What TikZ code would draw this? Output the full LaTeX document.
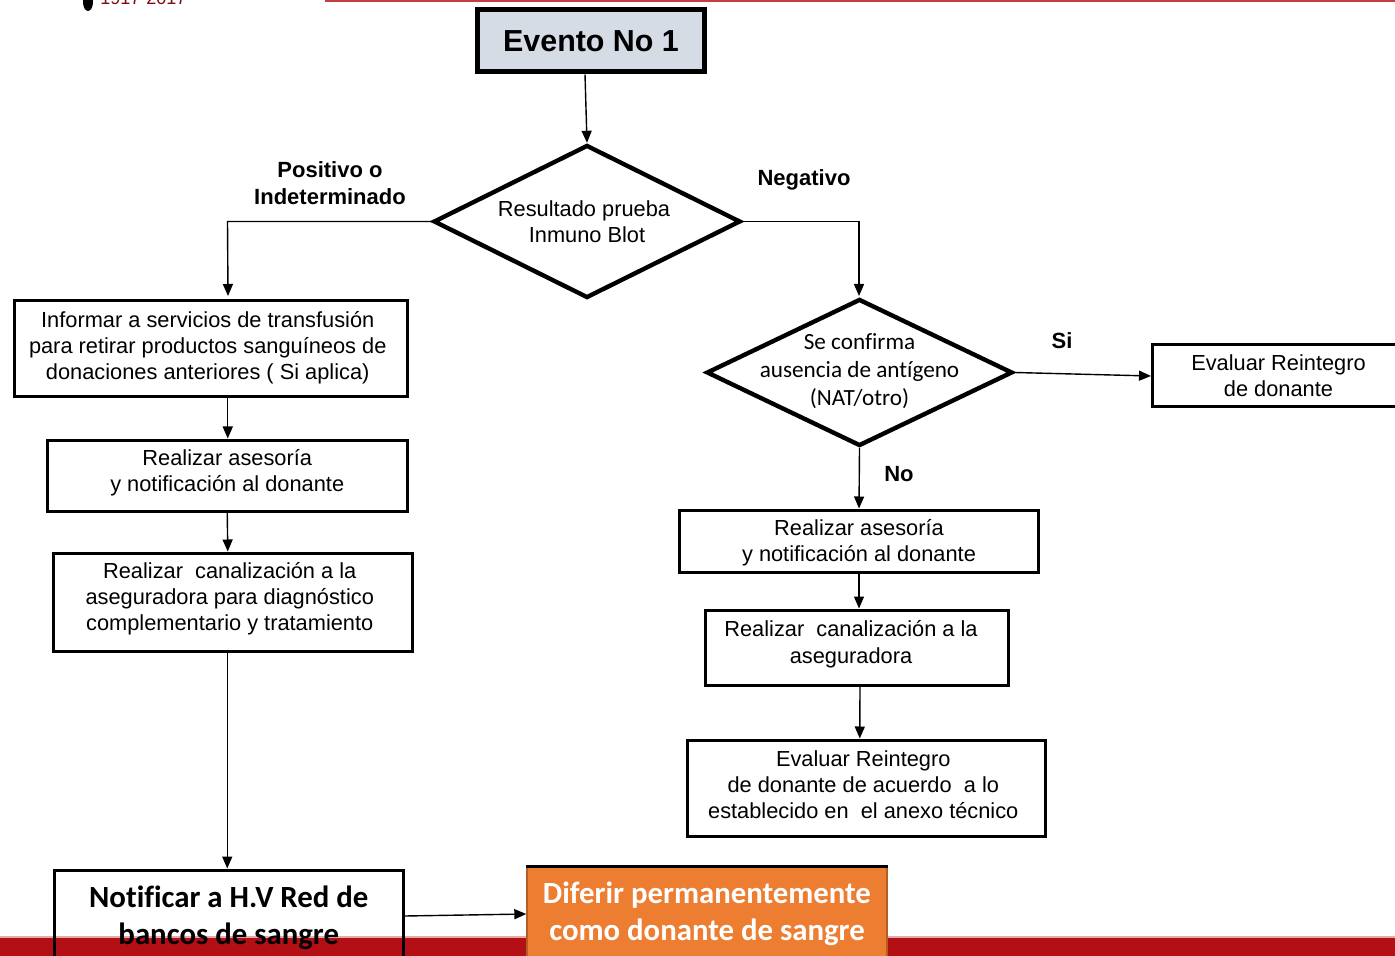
\documentclass[tikz,border=0pt]{standalone}
\usepackage{fontspec}
\setmainfont{Liberation Sans}
\newfontfamily\calibrifont[Ligatures=NoCommon]{Carlito}
\usetikzlibrary{arrows.meta,shapes.geometric}

\definecolor{bandred}{HTML}{B30F14}
\definecolor{eventfill}{HTML}{D6DCE5}
\definecolor{deferfill}{HTML}{ED7D31}
\newcommand{\leftpad}{\rule{3pt}{0pt}}

\tikzset{
  flowbox/.style={draw=black,line width=1.5pt,inner sep=0pt,align=center,
    font=\fontsize{10.9}{13}\selectfont},
  decision/.style={diamond,draw=black,line width=2.2pt,inner sep=0pt,align=center,aspect=2},
  branchlabel/.style={font=\fontsize{11}{13.5}\selectfont\bfseries,align=center,inner sep=0pt},
  boldbox/.style={line width=1.5pt,inner sep=0pt,align=center,
    font=\calibrifont\fontsize{15.4}{18.5}\selectfont\bfseries},
  flowarrow/.style={draw=black,line width=.7pt,-{Triangle[length=6pt,width=5pt]}}
}

\begin{document}
\begin{tikzpicture}[x=.5pt,y=-.5pt]
  \useasboundingbox (0,0) rectangle (1395,956);
  \clip (0,0) rectangle (1395,956);
  \fill[white] (0,0) rectangle (1395,956);

  % page furniture behind the chart
  \fill[bandred!35!white] (0,935.5) rectangle (1395,937.5);
  \fill[bandred] (0,937.5) rectangle (1395,956);
  \fill[bandred!80!white] (325,0) rectangle (1395,2.5);
  \fill[black] (88,2) ellipse (5 and 9);
  \node (year) [anchor=base west,inner sep=0pt,text=bandred!70!black,
    font=\fontsize{9}{10}\selectfont] at (100,5) {1917-2017};

  % top and left branch
  \node (evento) [flowbox,line width=2.5pt,fill=eventfill,minimum width=113.5pt,minimum height=31pt,
    text depth=0pt,font=\fontsize{15.2}{18}\selectfont\bfseries] at (591,41) {Evento No 1};
  \node (prueba) [decision,minimum width=153.5pt,minimum height=76.5pt,
    font=\fontsize{10.9}{13}\selectfont] at (587,221.5) {Resultado prueba\leftpad\\Inmuno Blot};
  \node (informar) [flowbox,minimum width=196.5pt,minimum height=48pt,text depth=3pt] at (210.75,348.75)
    {Informar a servicios de transfusión\leftpad\\para retirar productos sanguíneos de\leftpad\\donaciones anteriores ( Si aplica)\leftpad};
  \node (asesoria) [flowbox,minimum width=180pt,minimum height=35.5pt,text depth=5pt] at (227.25,475.5)
    {Realizar asesoría\\y notificación al donante};
  \node (canal) [flowbox,minimum width=179.5pt,minimum height=49pt,text depth=6pt] at (232.75,602)
    {Realizar~ canalización a la\leftpad\\aseguradora para diagnóstico\leftpad\\complementario y tratamiento\leftpad};

  % right branch
  \node (confirma) [decision,inner sep=-20pt,minimum width=153pt,minimum height=73.5pt,text depth=3pt,
    font=\calibrifont\fontsize{11.6}{14}\selectfont] at (859.5,372.5)
    {Se confirma\\ausencia de antígeno\\(NAT/otro)};
  \node (reintegro) [flowbox,minimum width=126pt,minimum height=31pt,text depth=.4pt] at (1278.5,376)
    {Evaluar Reintegro\\de donante};
  \node (asesoriados) [flowbox,minimum width=179.5pt,minimum height=31pt,text depth=.4pt] at (859,541)
    {Realizar asesoría\\y notificación al donante};
  \node (canaldos) [flowbox,minimum width=151.5pt,minimum height=37.5pt,text depth=6pt] at (857,647.5)
    {Realizar~ canalización a la\hspace*{6pt}\\[.5pt]aseguradora\hspace*{6pt}};
  \node (evaluar) [flowbox,minimum width=179pt,minimum height=48pt,text depth=3pt] at (866.25,788)
    {Evaluar Reintegro\leftpad\\de donante de acuerdo~ a lo\leftpad\\establecido en~ el anexo técnico\leftpad};

  % bottom row
  \node (notificar) [draw=black,boldbox,minimum width=174.5pt,minimum height=47.5pt] at (228.75,917.5)
    {Notificar a H.V Red de\\bancos de sangre};
  \node (diferir) [boldbox,draw=deferfill!75!black,line width=.7pt,fill=deferfill,text=white,
    minimum width=180pt,minimum height=47pt] at (707,914)
    {Diferir permanentemente\\como donante de sangre};
  \draw[line width=1.2pt] (diferir.north west) -- (diferir.north east);

  % branch labels
  \node (positivo) [branchlabel] at (330,183) {Positivo o\\Indeterminado};
  \node (negativo) [branchlabel] at (804,180) {Negativo};
  \node (si) [branchlabel] at (1062,341) {Si};
  \node (no) [branchlabel] at (899,474) {No};

  % connectors
  \coordinate (informartop) at (228,296);
  \coordinate (confirmatop) at (859,296);
  \draw[flowarrow] ([xshift=-3pt]evento.south) -- (prueba.north);
  \draw[flowarrow] (prueba.west) -- (227.5,221.5) -- (informartop);
  \draw[flowarrow] (prueba.east) -| (confirmatop);
  \draw[flowarrow] ([xshift=8.5pt]informar.south) -- ([xshift=.25pt]asesoria.north);
  \draw[flowarrow] (asesoria.south) -- ([xshift=-2.5pt]canal.north);
  \draw[flowarrow] ([xshift=-2.75pt]canal.south) -- ([xshift=-.75pt]notificar.north);
  \draw[flowarrow] (notificar.east |- 0,916) -- (diferir.west |- 0,914);
  \draw[flowarrow] (confirma.east) -- (reintegro.west);
  \draw[flowarrow] (confirma.south) -- (asesoriados.north);
  \draw[flowarrow] (asesoriados.south) -- ([xshift=1pt]canaldos.north);
  \draw[flowarrow] ([xshift=1.5pt]canaldos.south) -- ([xshift=-3.25pt]evaluar.north);
\end{tikzpicture}
\end{document}
